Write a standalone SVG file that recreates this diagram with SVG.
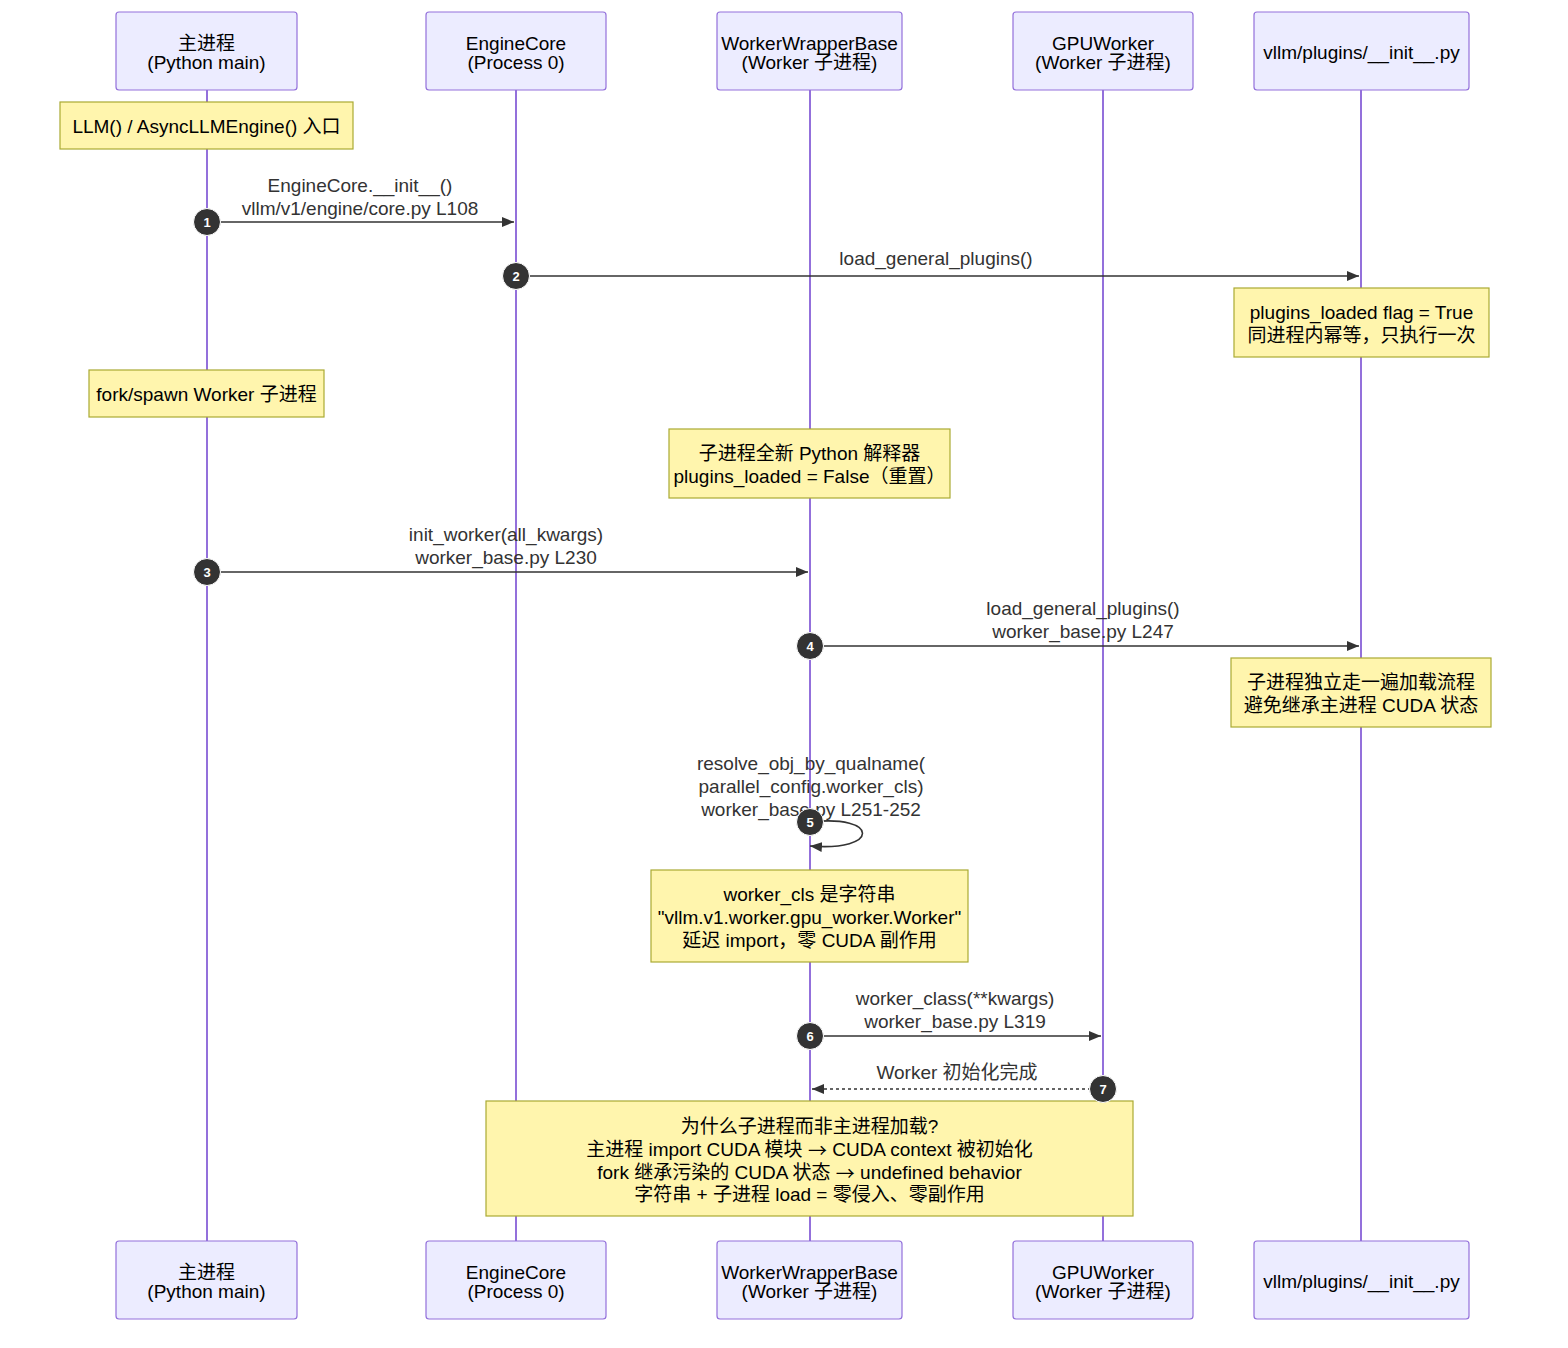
<svg xmlns="http://www.w3.org/2000/svg" width="1568" height="1348" viewBox="0 0 1568 1348">
<style>
text{font-family:"Liberation Sans","Noto Sans CJK SC",sans-serif;font-size:19px;text-anchor:middle;dominant-baseline:central;fill:#333}
.actor rect{fill:#ECECFF;stroke:#9370DB;stroke-width:1.2}
.actor text{fill:#000}
.life{stroke:#9370DB;stroke-width:2}
.note rect{fill:#fff5ad;stroke:#aaaa33;stroke-width:1.2}
.note text{fill:#000}
.cjk{font-family:"Noto Sans CJK SC",sans-serif}
.msg{stroke:#333;stroke-width:1.6;fill:none}
.dash{stroke-dasharray:3,3}
.num circle{fill:#333;stroke:#fff;stroke-width:1}
.num text{fill:#fff;font-size:13px;font-weight:bold}
</style>
<defs>
<marker id="arr" viewBox="0 0 12 10" refX="12" refY="5" markerWidth="12" markerHeight="10" orient="auto" markerUnits="userSpaceOnUse"><path d="M0,0 L12,5 L0,10 z" fill="#333"/></marker>
</defs>
<rect width="1568" height="1348" fill="#fff"/>
<g id="lifelines">
<line class="life" x1="207" y1="90" x2="207" y2="1241"/>
<line class="life" x1="516" y1="90" x2="516" y2="1241"/>
<line class="life" x1="810" y1="90" x2="810" y2="1241"/>
<line class="life" x1="1103" y1="90" x2="1103" y2="1241"/>
<line class="life" x1="1361" y1="90" x2="1361" y2="1241"/>
</g>
<g id="actor-main" class="actor">
<rect x="116" y="12" width="181" height="78" rx="3"/><text x="206.5" y="43">主进程</text><text x="206.5" y="62">(Python main)</text>
<rect x="116" y="1241" width="181" height="78" rx="3"/><text x="206.5" y="1272">主进程</text><text x="206.5" y="1291">(Python main)</text>
</g>
<g id="actor-enginecore" class="actor">
<rect x="426" y="12" width="180" height="78" rx="3"/><text x="516" y="43">EngineCore</text><text x="516" y="62">(Process 0)</text>
<rect x="426" y="1241" width="180" height="78" rx="3"/><text x="516" y="1272">EngineCore</text><text x="516" y="1291">(Process 0)</text>
</g>
<g id="actor-wrapper" class="actor">
<rect x="717" y="12" width="185" height="78" rx="3"/><text x="809.5" y="43">WorkerWrapperBase</text><text x="809.5" y="62">(Worker 子进程)</text>
<rect x="717" y="1241" width="185" height="78" rx="3"/><text x="809.5" y="1272">WorkerWrapperBase</text><text x="809.5" y="1291">(Worker 子进程)</text>
</g>
<g id="actor-gpuworker" class="actor">
<rect x="1013" y="12" width="180" height="78" rx="3"/><text x="1103" y="43">GPUWorker</text><text x="1103" y="62">(Worker 子进程)</text>
<rect x="1013" y="1241" width="180" height="78" rx="3"/><text x="1103" y="1272">GPUWorker</text><text x="1103" y="1291">(Worker 子进程)</text>
</g>
<g id="actor-plugins" class="actor">
<rect x="1254" y="12" width="215" height="78" rx="3"/><text x="1361.5" y="52">vllm/plugins/__init__.py</text>
<rect x="1254" y="1241" width="215" height="78" rx="3"/><text x="1361.5" y="1281">vllm/plugins/__init__.py</text>
</g>
<g id="note-entry" class="note"><rect x="60" y="102" width="293" height="47"/><text x="206.5" y="126">LLM() / AsyncLLMEngine() 入口</text></g>
<g id="note-flag" class="note"><rect x="1234" y="288" width="255" height="69"/><text x="1361.5" y="312">plugins_loaded flag = True</text><text x="1361.5" y="335">同进程内幂等，只执行一次</text></g>
<g id="note-fork" class="note"><rect x="89" y="370" width="235" height="47"/><text x="206.5" y="394">fork/spawn Worker 子进程</text></g>
<g id="note-fresh" class="note"><rect x="669" y="429" width="281" height="69"/><text x="809.5" y="453">子进程全新 Python 解释器</text><text x="809.5" y="476">plugins_loaded = False（重置）</text></g>
<g id="note-independent" class="note"><rect x="1231" y="658" width="260" height="69"/><text x="1361" y="682">子进程独立走一遍加载流程</text><text x="1361" y="705">避免继承主进程 CUDA 状态</text></g>
<g id="note-workercls" class="note"><rect x="651" y="870" width="317" height="92"/><text x="809.5" y="894">worker_cls 是字符串</text><text x="809.5" y="917">"vllm.v1.worker.gpu_worker.Worker"</text><text x="809.5" y="940">延迟 import，零 CUDA 副作用</text></g>
<g id="note-why" class="note"><rect x="486" y="1101" width="647" height="115"/><text x="809.5" y="1126">为什么子进程而非主进程加载?</text><text x="809.5" y="1149">主进程 import CUDA 模块 <tspan class="cjk">→</tspan> CUDA context 被初始化</text><text x="809.5" y="1172">fork 继承污染的 CUDA 状态 <tspan class="cjk">→</tspan> undefined behavior</text><text x="809.5" y="1194">字符串 + 子进程 load = 零侵入、零副作用</text></g>
<g id="connectors">
<text x="360" y="185">EngineCore.__init__()</text><text x="360" y="208">vllm/v1/engine/core.py L108</text>
<line class="msg" x1="207" y1="222" x2="514" y2="222" marker-end="url(#arr)"/>
<text x="936" y="258">load_general_plugins()</text>
<line class="msg" x1="516" y1="276" x2="1359" y2="276" marker-end="url(#arr)"/>
<text x="506" y="534">init_worker(all_kwargs)</text><text x="506" y="557">worker_base.py L230</text>
<line class="msg" x1="207" y1="572" x2="808" y2="572" marker-end="url(#arr)"/>
<text x="1083" y="608">load_general_plugins()</text><text x="1083" y="631">worker_base.py L247</text>
<line class="msg" x1="810" y1="646" x2="1359" y2="646" marker-end="url(#arr)"/>
<text x="811" y="763">resolve_obj_by_qualname(</text><text x="811" y="786">parallel_config.worker_cls)</text><text x="811" y="809">worker_base.py L251-252</text>
<path class="msg" d="M810,822 C880,814 880,852 810,846" marker-end="url(#arr)"/>
<text x="955" y="998">worker_class(**kwargs)</text><text x="955" y="1021">worker_base.py L319</text>
<line class="msg" x1="810" y1="1036" x2="1101" y2="1036" marker-end="url(#arr)"/>
<text x="957" y="1072">Worker 初始化完成</text>
<line class="msg dash" x1="1103" y1="1089" x2="812" y2="1089" marker-end="url(#arr)"/>
<g class="num"><circle cx="207" cy="222" r="13.5"/><text x="207" y="222">1</text></g>
<g class="num"><circle cx="516" cy="276" r="13.5"/><text x="516" y="276">2</text></g>
<g class="num"><circle cx="207" cy="572" r="13.5"/><text x="207" y="572">3</text></g>
<g class="num"><circle cx="810" cy="646" r="13.5"/><text x="810" y="646">4</text></g>
<g class="num"><circle cx="810" cy="822" r="13.5"/><text x="810" y="822">5</text></g>
<g class="num"><circle cx="810" cy="1036" r="13.5"/><text x="810" y="1036">6</text></g>
<g class="num"><circle cx="1103" cy="1089" r="13.5"/><text x="1103" y="1089">7</text></g>
</g>
</svg>
